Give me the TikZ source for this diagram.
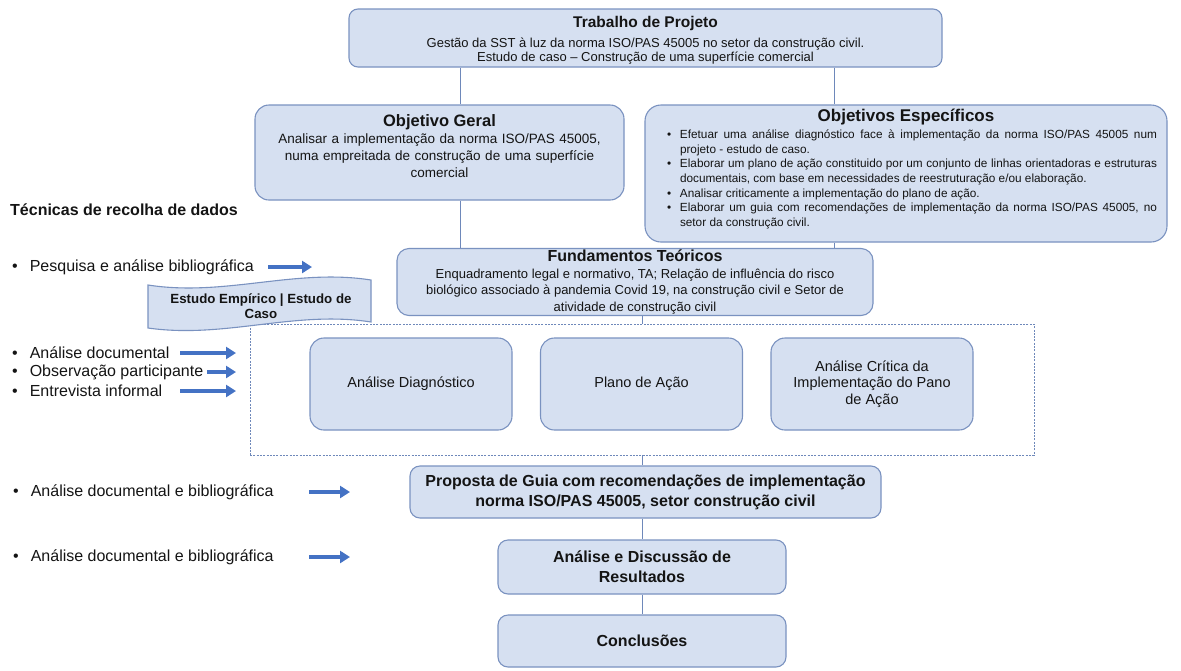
\documentclass[tikz,border=0pt]{standalone}
\usepackage{fontspec}
\setmainfont{Liberation Sans}
\usetikzlibrary{arrows.meta,calc}
\definecolor{boxfill}{RGB}{214,224,241}
\definecolor{boxdraw}{RGB}{122,146,192}
\definecolor{lineclr}{RGB}{110,136,186}
\definecolor{arrclr}{RGB}{68,114,196}
\definecolor{txt}{RGB}{20,20,20}
\newcommand\oeitem[1]{\par\noindent\hangindent=13pt\hangafter=1\makebox[13pt][l]{\textbullet}#1\par}
\begin{document}
\begin{tikzpicture}[x=1pt,y=-1pt,
 box/.style={draw=boxdraw, fill=boxfill, line width=1.1pt, rounded corners=12pt, align=center, inner sep=1pt, text=txt},
 conn/.style={draw=lineclr, line width=1pt},
 arr/.style={draw=arrclr, line width=3.6pt, -{Triangle[length=10pt,width=12pt]}},
 lbl/.style={anchor=west, inner sep=0pt, text=txt, font=\fontsize{16}{18}\selectfont},
]
\useasboundingbox (0,0) rectangle (1181,670);

% coordinates for vertical connectors
\coordinate (xl) at (460,0);
\coordinate (xr) at (834,0);
\coordinate (xc) at (642,0);

% top box
\node[box, rounded corners=9pt, minimum width=593pt, minimum height=58pt] (trab) at (645.5,38) {};
\node[align=center, inner sep=0pt, text=txt, font=\fontsize{13}{14}\selectfont] (trabtxt) at (645.5,40)
 {{\fontsize{15.5}{17}\selectfont\bfseries Trabalho de Projeto}\\[6pt]
  Gestão da SST à luz da norma ISO/PAS 45005 no setor da construção civil.\\
  Estudo de caso – Construção de uma superfície comercial};

% objectives
\node[box, rounded corners=14pt, minimum width=369pt, minimum height=95pt, text width=362pt, font=\fontsize{13.5}{17}\selectfont] (og) at (439.5,152.5)
 {{\fontsize{16.5}{18}\selectfont\bfseries Objetivo Geral\par}
  Analisar a implementação da norma ISO/PAS 45005,\\
  numa empreitada de construção de uma superfície\\
  comercial\par\vspace*{13pt}};

\node[box, rounded corners=16pt, minimum width=522pt, minimum height=137pt, text width=502pt, align=justify, font=\fontsize{11.8}{14.6}\selectfont] (oe) at (906,173.5)
 {{\centering\fontsize{17}{19}\selectfont\bfseries Objetivos Específicos\par}\vspace{2.5pt}
  \leftskip=12pt
  \oeitem{Efetuar uma análise diagnóstico face à implementação da norma ISO/PAS 45005 num\linebreak projeto - estudo de caso.}
  \oeitem{Elaborar um plano de ação constituido por um conjunto de linhas orientadoras e estruturas\linebreak documentais, com base em necessidades de reestruturação e/ou elaboração.}
  \oeitem{Analisar criticamente a implementação do plano de ação.}
  \oeitem{Elaborar um guia com recomendações de implementação da norma ISO/PAS 45005, no\linebreak setor da construção civil.}
  \vspace*{9pt}};

% fundamentos
\node[box, rounded corners=12pt, minimum width=476pt, minimum height=67pt, inner ysep=0pt, font=\fontsize{13}{16.5}\selectfont] (fund) at (635,282)
 {{\fontsize{16}{17}\selectfont\bfseries Fundamentos Teóricos}\\
  Enquadramento legal e normativo, TA; Relação de influência do risco\\
  biológico associado à pandemia Covid 19, na construção civil e Setor de\\
  atividade de construção civil};

% dashed frame
\node[draw=lineclr, dash pattern=on 2pt off 1.3pt, line width=0.8pt, minimum width=784pt, minimum height=131pt, inner sep=0pt] (dbox) at (642,389.5) {};

% banner (wave shape)
\path[fill=boxfill, draw=boxdraw, line width=1.1pt]
  (148,285) .. controls (225,297) and (295,268) .. (371,280) -- (371,322)
  .. controls (295,310) and (225,339) .. (148,328) -- cycle;
\node[align=center, text=txt, font=\fontsize{13.3}{15}\selectfont\bfseries, inner sep=0pt] (banner) at (261,306)
 {Estudo Empírico | Estudo de\\Caso};

% three stages
\node[box, rounded corners=14pt, minimum width=202pt, minimum height=92pt, font=\fontsize{14.5}{16.5}\selectfont] (b1) at (411,384) {Análise Diagnóstico};
\node[box, rounded corners=14pt, minimum width=202pt, minimum height=92pt, font=\fontsize{14.5}{16.5}\selectfont] (b2) at (641.5,384) {Plano de Ação};
\node[box, rounded corners=14pt, minimum width=202pt, minimum height=92pt, font=\fontsize{14.5}{16.5}\selectfont] (b3) at (872,384) {Análise Crítica da\\Implementação do Pano\\de Ação};

% lower boxes
\node[box, rounded corners=10pt, minimum width=471pt, minimum height=52pt, font=\fontsize{16}{20}\selectfont\bfseries] (prop) at (645.5,492)
 {Proposta de Guia com recomendações de implementação\\norma ISO/PAS 45005, setor construção civil};
\node[box, rounded corners=10pt, minimum width=288pt, minimum height=54pt, font=\fontsize{16}{20}\selectfont\bfseries] (ad) at (642,567)
 {Análise e Discussão de\\Resultados};
\node[box, rounded corners=10pt, minimum width=288pt, minimum height=52pt, font=\fontsize{16}{20}\selectfont\bfseries] (conc) at (642,641)
 {Conclusões};

% connectors
\draw[conn] (trab.south -| xl) -- (og.north -| xl);
\draw[conn] (trab.south -| xr) -- (oe.north -| xr);
\draw[conn] (og.south -| xl) -- (fund.north -| xl);
\draw[conn] (oe.south -| xr) -- (fund.north -| xr);
\draw[conn] (fund.south -| xc) -- (dbox.north -| xc);
\draw[conn] (dbox.south -| xc) -- (prop.north -| xc);
\draw[conn] (prop.south -| xc) -- (ad.north -| xc);
\draw[conn] (ad.south -| xc) -- (conc.north -| xc);

% left column
\node[lbl, font=\fontsize{16}{18}\selectfont\bfseries] (tec) at (10,210) {Técnicas de recolha de dados};
\node[lbl] (l1) at (12,267) {\textbullet\hspace{12pt}Pesquisa e análise bibliográfica};
\node[lbl] (l2) at (12,353) {\textbullet\hspace{12pt}Análise documental};
\node[lbl] (l3) at (12,372) {\textbullet\hspace{12pt}Observação participante};
\node[lbl] (l4) at (12,391) {\textbullet\hspace{12pt}Entrevista informal};
\node[lbl] (l5) at (13,492) {\textbullet\hspace{12pt}Análise documental e bibliográfica};
\node[lbl] (l6) at (13,557) {\textbullet\hspace{12pt}Análise documental e bibliográfica};

\coordinate (a1s) at (268,267); \coordinate (a1e) at (312,267);
\coordinate (a2s) at (180,353); \coordinate (a2e) at (236,353);
\coordinate (a3s) at (207,372); \coordinate (a3e) at (236,372);
\coordinate (a4s) at (180,391); \coordinate (a4e) at (236,391);
\coordinate (a5s) at (309,492); \coordinate (a5e) at (350,492);
\coordinate (a6s) at (309,557); \coordinate (a6e) at (350,557);
\draw[arr] (a1s) -- (a1e);
\draw[arr] (a2s) -- (a2e);
\draw[arr] (a3s) -- (a3e);
\draw[arr] (a4s) -- (a4e);
\draw[arr] (a5s) -- (a5e);
\draw[arr] (a6s) -- (a6e);
\end{tikzpicture}
\end{document}
